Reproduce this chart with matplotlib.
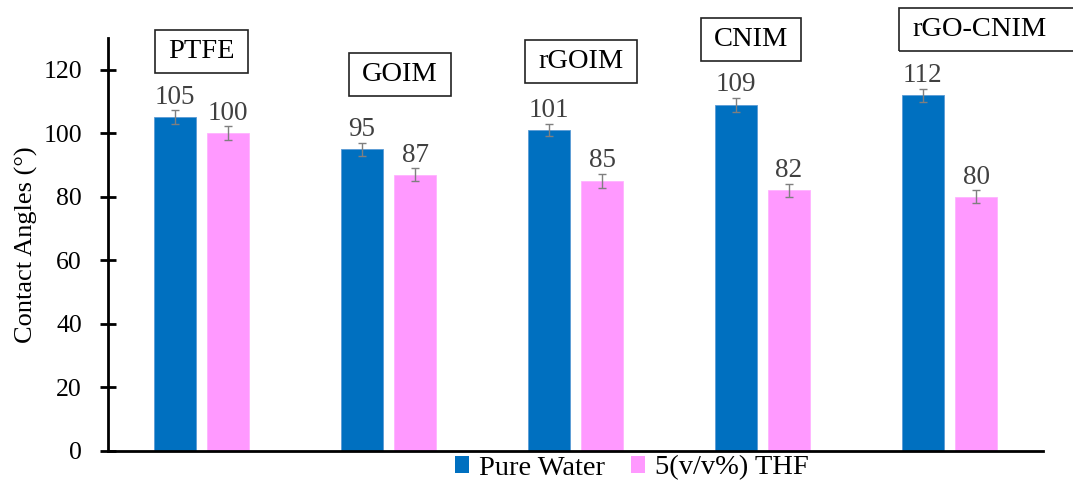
import matplotlib
matplotlib.use("Agg")
import matplotlib.pyplot as plt
import numpy as np
from matplotlib.patches import Patch, Rectangle

plt.rcParams['font.family'] = ['Liberation Serif', 'DejaVu Serif']

categories = ["PTFE", "GOIM", "rGOIM", "CNIM", "rGO-CNIM"]
pure_water = [105, 95, 101, 109, 112]
thf_mix = [100, 87, 85, 82, 80]
pure_err = [2.2, 2.0, 2.0, 2.2, 2.0]
thf_err = [2.2, 2.0, 2.2, 2.0, 2.0]
series_names = ["Pure Water", "5(v/v%) THF"]
yticks = [0, 20, 40, 60, 80, 100, 120]

blue = "#0070C0"
pink = "#FF99FF"
err_col = "#7F7F7F"
val_col = "#404040"

W, H = 1073, 483
fig = plt.figure(figsize=(W / 100, H / 100), dpi=100)
ax = fig.add_axes([0.1007, 0.0663, 0.8713, 0.8550])

x = np.arange(len(categories))
w = 0.225
off = 0.142
ekw = dict(ecolor=err_col, elinewidth=1.0, capsize=2.6, capthick=1.0)
ax.bar(x - off, pure_water, w, color=blue, edgecolor="#5B9BD5", linewidth=0.6,
       yerr=pure_err, error_kw=ekw)
ax.bar(x + off, thf_mix, w, color=pink, edgecolor="#FFB3FF", linewidth=0.6,
       yerr=thf_err, error_kw=ekw)

for xi, v, e in zip(x - off, pure_water, pure_err):
    ax.annotate(f"{v}", (xi, v + e), xytext=(0, 0.5), textcoords="offset points",
                ha="center", va="bottom", fontsize=19.5, color=val_col)
for xi, v, e in zip(x + off, thf_mix, thf_err):
    ax.annotate(f"{v}", (xi, v + e), xytext=(0, 0.5), textcoords="offset points",
                ha="center", va="bottom", fontsize=19.5, color=val_col)

ax.set_xlim(-0.5, 4.5)
ax.set_ylim(0, 130)
ax.set_xticks([])
ax.set_yticks(yticks)
ax.tick_params(axis="y", direction="inout", length=11.5, width=2, labelsize=18.5, pad=13)
for s in ["top", "right"]:
    ax.spines[s].set_visible(False)
ax.spines["left"].set_linewidth(2)
ax.spines["bottom"].set_linewidth(2)
ax.set_ylabel("Contact Angles (°)", fontsize=19, labelpad=4)

# boxed sample names above each group (centre in data coords, extra right margin)
name_pos = [(0.0, 125.7), (1.06, 118.4), (2.03, 122.5), (2.94, 129.4), (4.16, 132.6)]
right_extra = [0, 0, 0, 0, 20]
name_texts = []
for name, (px, py) in zip(categories, name_pos):
    t = ax.text(px, py, name, ha="center", va="center", fontsize=20.5, color="black",
                clip_on=False, zorder=5)
    name_texts.append(t)

fig.canvas.draw()
renderer = fig.canvas.get_renderer()
pad_x, pad_y = 13, 10
for t, rx in zip(name_texts, right_extra):
    bb = t.get_window_extent(renderer)
    x0 = bb.x0 - pad_x
    x1 = bb.x1 + pad_x + rx
    y0 = bb.y0 - pad_y + 1
    y1 = bb.y1 + pad_y - 1
    fig.patches.append(Rectangle((x0 / W, y0 / H), (x1 - x0) / W, (y1 - y0) / H,
                                 transform=fig.transFigure, facecolor="none",
                                 edgecolor="#222222", linewidth=1.2, zorder=6))

handles = [Patch(facecolor=blue), Patch(facecolor=pink)]
fig.legend(handles, series_names, loc="center", bbox_to_anchor=(0.589, 0.031), ncol=2,
           frameon=False, fontsize=20.5, handlelength=0.5, handleheight=0.5,
           handletextpad=0.35, columnspacing=0.9, borderpad=0)

fig.savefig("out.png", dpi=100)
